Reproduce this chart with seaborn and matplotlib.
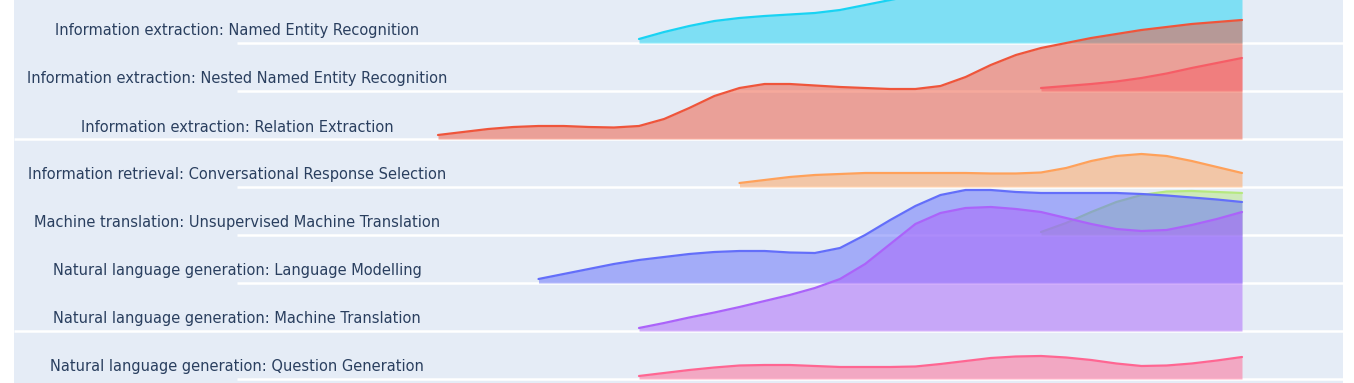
import numpy as np
import pandas as pd
import matplotlib
matplotlib.use("Agg")
import matplotlib.pyplot as plt
import seaborn as sns

# rows, top to bottom
categories = [
    "Information extraction: Named Entity Recognition",
    "Information extraction: Nested Named Entity Recognition",
    "Information extraction: Relation Extraction",
    "Information retrieval: Conversational Response Selection",
    "Machine translation: Unsupervised Machine Translation",
    "Natural language generation: Language Modelling",
    "Natural language generation: Machine Translation",
    "Natural language generation: Question Generation",
]
colors = ["#19D3F3", "#FF6692", "#EF553B", "#FFA15A",
          "#B6E880", "#636EFA", "#AB63FA", "#FF6692"]

# first year of each ridge, all end in 2023, values every quarter year
start_years = [2017, 2021, 2015, 2018, 2021, 2016, 2017, 2017]
end_year = 2023
step = 0.25

# ridge heights (density)
ner = [4, 11, 17, 22, 25, 27, 28.5, 30, 33, 38, 43, 48, 53, 57, 60, 62,
       64, 66, 68, 70, 72, 74, 76, 78, 80]
nested_ner = [3, 5, 7, 9.5, 13, 17.5, 23, 28, 33]
relation = [4, 7, 10, 12, 13, 13, 12, 11.5, 13, 20, 31, 43, 51, 55, 55, 53.5,
            52, 51, 50, 50, 53, 62, 74, 84, 91, 96, 101, 105, 109, 112, 115, 117, 119]
conversational = [4, 7, 10, 12, 13, 14, 14, 14, 14, 14, 13.5, 13.5, 14.5, 19, 26, 31,
                  33, 31, 26, 20, 14]
unsup_mt = [3, 12, 23, 33, 40, 43.5, 44, 43, 42]
lang_model = [4, 9, 14, 19, 23, 26, 29, 31, 32, 32, 30.5, 30, 35, 48, 63, 77,
              88, 93, 93, 91, 90, 90, 90, 90, 89, 87.5, 85.5, 83.5, 81]
nlg_mt = [3, 8, 13.5, 18.5, 24, 30, 36, 43, 52, 67, 87, 107, 118, 123, 124, 122,
          119, 113, 107, 102, 100, 101, 106, 112, 119]
question_gen = [3, 6, 9, 11.5, 13.5, 14, 14, 13, 12, 12, 12, 12.5, 15, 18, 21, 22.5,
                23, 21.5, 19, 15.5, 13, 13.5, 15.5, 18.5, 22]

heights = [ner, nested_ner, relation, conversational, unsup_mt, lang_model, nlg_mt, question_gen]

row_scale = 48.0  # one row = 48 density units

bg = "#E5ECF6"
text_color = "#2a3f5f"

sns.set_style("white")
plt.rcParams["font.family"] = ["DejaVu Sans"]

fig = plt.figure(figsize=(13.54, 3.83), dpi=100, facecolor="white")
ax = fig.add_axes([14 / 1354, 0, 1329 / 1354, 1])
ax.set_facecolor(bg)

n = len(categories)
x_left = 2015 + (14 - 438) / 100.5
x_right = 2015 + (1343 - 438) / 100.5
ax.set_xlim(x_left, x_right)
ax.set_ylim(-4 / row_scale, 379 / row_scale)

# grid lines at each baseline
for i in range(n):
    base = n - 1 - i
    start = x_left if i in (2, 6) else 2013
    ax.hlines(base, start, x_right, color="white", lw=1.8, zorder=1)

for i, (cat, col, y0, h) in enumerate(zip(categories, colors, start_years, heights)):
    base = n - 1 - i
    years = y0 + step * np.arange(len(h))
    df = pd.DataFrame({"year": years, "top": base + np.array(h) / row_scale})
    ax.fill_between(df["year"], base, df["top"], color=col, alpha=0.5, lw=0, zorder=2 + i)
    sns.lineplot(data=df, x="year", y="top", color=col, lw=1.6, ax=ax,
                 estimator=None, sort=False, zorder=2 + i)
    ax.text(2013, base + 12 / row_scale, cat, ha="center", va="center",
            fontsize=10.5, color=text_color, zorder=20)

ax.set_xlabel("")
ax.set_ylabel("")
ax.set_xticks([])
ax.set_yticks([])
for s in ax.spines.values():
    s.set_visible(False)

fig.savefig("out.png", dpi=100, facecolor="white")
